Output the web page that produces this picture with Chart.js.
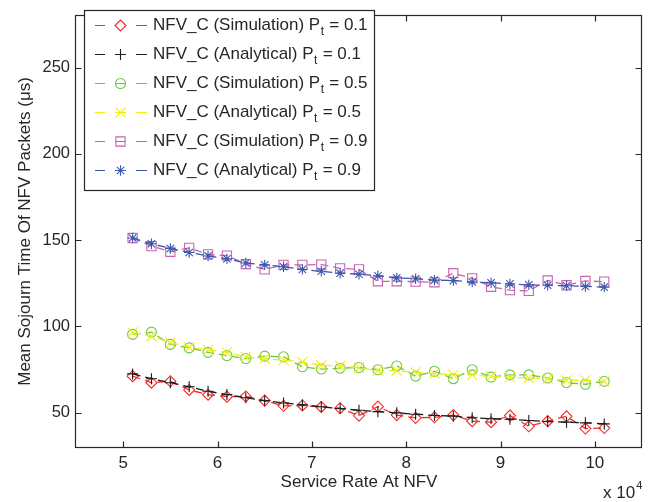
<!DOCTYPE html>
<html>
<head>
<meta charset="utf-8">
<script src="https://cdn.jsdelivr.net/npm/chart.js@4.4.0/dist/chart.umd.min.js"></script>
<style>
  html, body { margin: 0; padding: 0; background: #fff; }
  #wrap { width: 665px; height: 502px; position: relative; }
</style>
</head>
<body>
<div id="wrap"><canvas id="chart"></canvas></div>
<script>
// service rate in units of 10^4
const serviceRate = [5.1, 5.3, 5.5, 5.7, 5.9, 6.1, 6.3, 6.5, 6.7, 6.9, 7.1, 7.3, 7.5,
  7.7, 7.9, 8.1, 8.3, 8.5, 8.7, 8.9, 9.1, 9.3, 9.5, 9.7, 9.9, 10.1];

const simP01 = [71.1, 67.3, 68.1, 63.1, 60.3, 59.2, 59.3, 56.9, 53.9, 54.1, 53.2, 52.5, 48.2,
  53.4, 48.5, 46.9, 47.2, 48.5, 45.0, 44.4, 48.2, 42.0, 45.0, 47.8, 40.7, 41.0];
const anaP01 = [72.4, 69.6, 67.3, 64.9, 62.3, 60.4, 58.6, 56.9, 55.5, 54.5, 53.3, 52.3, 51.3,
  50.5, 49.8, 49.0, 48.3, 47.9, 47.0, 46.4, 46.1, 45.4, 44.8, 44.4, 44.0, 43.4];
const simP05 = [95.3, 96.6, 89.5, 87.5, 84.9, 83.0, 81.3, 82.7, 82.3, 76.5, 75.2, 75.7, 76.1,
  74.8, 77.0, 71.1, 73.9, 69.6, 74.8, 70.5, 71.8, 71.8, 70.0, 67.3, 66.4, 68.1];
const anaP05 = [96.5, 94.2, 90.5, 87.9, 86.4, 84.9, 82.3, 81.2, 80.4, 79.3, 77.4, 77.0, 75.9,
  74.3, 74.3, 73.3, 72.6, 71.8, 71.8, 70.9, 70.5, 70.0, 69.6, 68.7, 68.7, 68.1];
const simP09 = [151.2, 146.5, 143.2, 145.5, 141.7, 141.0, 136.1, 133.0, 135.6, 135.6, 135.8, 133.6, 133.0,
  126.1, 126.1, 125.9, 125.5, 130.8, 127.8, 122.9, 121.0, 120.5, 126.6, 123.8, 126.3, 125.9];
const anaP09 = [151.2, 147.9, 145.1, 142.8, 140.8, 139.1, 136.7, 135.6, 134.5, 133.0, 131.9, 130.8, 130.2,
  129.3, 128.1, 127.6, 126.8, 126.5, 125.7, 125.2, 124.6, 124.0, 123.8, 123.5, 123.1, 122.7];

const seriesNames = ['NFV_C (Simulation)', 'NFV_C (Analytical)', 'NFV_C (Simulation)',
  'NFV_C (Analytical)', 'NFV_C (Simulation)', 'NFV_C (Analytical)'];
const ptValues = ['0.1', '0.1', '0.5', '0.5', '0.9', '0.9'];
const xTicks = [5, 6, 7, 8, 9, 10];
const yTicks = [50, 100, 150, 200, 250];

const FONT = '"Liberation Sans", Arial, Helvetica, sans-serif';
const INK = '#262626';

const styles = [
  { color: '#f42a2a', point: 'rectRot', radius: 5.5, bar: false },
  { color: '#1e1e1e', point: 'cross', radius: 5.5, bar: true },
  { color: '#6cc64a', point: 'circle', radius: 5, bar: true },
  { color: '#eeee10', point: 'crossRot', radius: 7, bar: true },
  { color: '#c663b0', point: 'rect', radius: 6.5, bar: true },
  { color: '#3a58ad', point: 'star', radius: 5.2, bar: true }
];
const seriesValues = [simP01, anaP01, simP05, anaP05, simP09, anaP09];

function makeDataset(i) {
  const s = styles[i];
  return {
    label: seriesNames[i] + ' Pt = ' + ptValues[i],
    data: serviceRate.map((x, k) => ({ x: x, y: seriesValues[i][k] })),
    borderColor: s.color,
    borderWidth: 1.3,
    borderDash: [8, 5],
    pointStyle: s.point,
    pointRadius: s.radius,
    pointHoverRadius: s.radius,
    pointBorderColor: s.color,
    pointBackgroundColor: 'rgba(0,0,0,0)',
    pointBorderWidth: 1.1,
    tension: 0,
    order: 6 - i
  };
}

// box, inner ticks, legend and the x 10^4 exponent
const matlabFrame = {
  id: 'matlabFrame',
  afterDraw(chart) {
    const { ctx, chartArea: a, scales: { x, y } } = chart;
    ctx.save();
    ctx.strokeStyle = INK;
    ctx.lineWidth = 1.2;
    const L = Math.round(a.left) - 0.5, R = Math.round(a.right) - 0.5;
    const T = Math.round(a.top) - 0.5, B = Math.round(a.bottom) + 0.5;
    ctx.strokeRect(L, T, R - L, B - T);
    ctx.beginPath();
    xTicks.forEach(v => {
      const px = Math.round(x.getPixelForValue(v)) + 0.5;
      ctx.moveTo(px, B); ctx.lineTo(px, B - 6);
      ctx.moveTo(px, T); ctx.lineTo(px, T + 6);
    });
    yTicks.forEach(v => {
      const py = Math.round(y.getPixelForValue(v)) + 0.5;
      ctx.moveTo(L, py); ctx.lineTo(L + 6, py);
      ctx.moveTo(R, py); ctx.lineTo(R - 6, py);
    });
    ctx.stroke();

    // legend
    const bx = 84.5, by = 10.5, bw = 290, bh = 180;
    ctx.fillStyle = '#fff';
    ctx.fillRect(bx, by, bw, bh);
    ctx.lineWidth = 1.2;
    ctx.strokeStyle = INK;
    ctx.strokeRect(bx, by, bw, bh);
    styles.forEach((s, i) => {
      const ly = 25 + i * 29;
      ctx.strokeStyle = s.color;
      ctx.lineWidth = 1.2;
      ctx.beginPath();
      ctx.moveTo(95, ly + 0.5); ctx.lineTo(105, ly + 0.5);
      if (s.bar) { ctx.moveTo(115, ly + 0.5); ctx.lineTo(126, ly + 0.5); }
      ctx.moveTo(136, ly + 0.5); ctx.lineTo(147, ly + 0.5);
      ctx.stroke();
      ctx.fillStyle = 'rgba(0,0,0,0)';
      ctx.lineWidth = 1.1;
      Chart.helpers.drawPoint(ctx, { pointStyle: s.point, radius: s.radius, rotation: 0, borderWidth: 1.1 }, 120.5, ly + 0.5);

      ctx.fillStyle = INK;
      ctx.textBaseline = 'middle';
      ctx.textAlign = 'left';
      ctx.font = '17px ' + FONT;
      let tx = 153;
      const head = seriesNames[i] + ' P';
      ctx.fillText(head, tx, ly);
      tx += ctx.measureText(head).width;
      ctx.font = '12px ' + FONT;
      ctx.fillText('t', tx + 0.5, ly + 7);
      tx += ctx.measureText('t').width + 1;
      ctx.font = '17px ' + FONT;
      ctx.fillText(' = ' + ptValues[i], tx, ly);
    });

    // exponent of the x axis
    ctx.fillStyle = INK;
    ctx.textBaseline = 'alphabetic';
    ctx.textAlign = 'left';
    ctx.font = '17px ' + FONT;
    ctx.fillText('x 10', 603, 498);
    const w = ctx.measureText('x 10').width;
    ctx.font = '11px ' + FONT;
    ctx.fillText('4', 603 + w + 1, 489);
    ctx.restore();
  }
};

new Chart(document.getElementById('chart'), {
  type: 'line',
  data: { datasets: seriesValues.map((_, i) => makeDataset(i)) },
  options: {
    responsive: true,
    maintainAspectRatio: false,
    animation: false,
    layout: { padding: { top: 2, right: 23, left: 0, bottom: 0 } },
    plugins: {
      legend: { display: false },
      tooltip: { enabled: false }
    },
    scales: {
      x: {
        type: 'linear',
        min: 4.5,
        max: 10.5,
        grid: { display: false, drawTicks: false },
        border: { display: false },
        afterBuildTicks: s => { s.ticks = xTicks.map(v => ({ value: v })); },
        afterFit: s => { s.height = 55; },
        ticks: {
          padding: 6,
          color: INK,
          font: { family: FONT, size: 17 },
          maxRotation: 0,
          callback: v => String(v)
        },
        title: {
          display: true,
          text: 'Service Rate At NFV',
          color: INK,
          font: { family: FONT, size: 17 },
          padding: { top: 0, bottom: 9 }
        }
      },
      y: {
        min: 30,
        max: 280,
        grid: { display: false, drawTicks: false },
        border: { display: false },
        afterBuildTicks: s => { s.ticks = yTicks.map(v => ({ value: v })); },
        afterFit: s => { s.width = 76; },
        ticks: {
          padding: 6,
          color: INK,
          font: { family: FONT, size: 16.5 },
          callback: v => String(v)
        },
        title: {
          display: true,
          text: 'Mean Sojourn Time Of NFV Packets (\u03bcs)',
          color: INK,
          font: { family: FONT, size: 17 },
          padding: { top: 15, bottom: 0 }
        }
      }
    }
  },
  plugins: [matlabFrame]
});
</script>
</body>
</html>
